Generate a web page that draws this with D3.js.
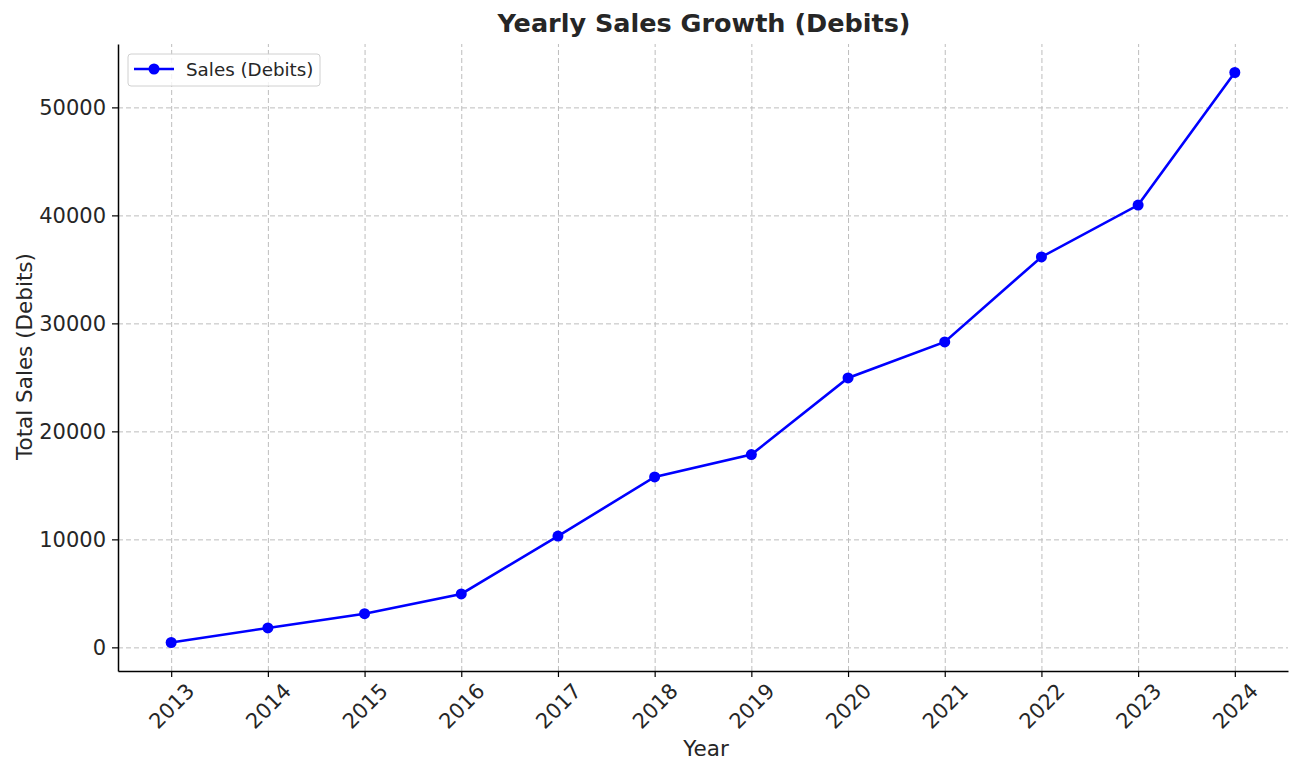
<!DOCTYPE html>
<html>
<head>
<meta charset="utf-8">
<script src="https://cdn.jsdelivr.net/npm/d3@7"></script>
<style>
  body { margin: 0; background: #fff; }
  svg text { font-family: "DejaVu Sans", sans-serif; fill: #262626; }
  .grid line { stroke: #bdbdbd; stroke-dasharray: 5,3; stroke-width: 1; }
  .grid path { display: none; }
</style>
</head>
<body>
<div id="chart"></div>
<script>
var years = [2013, 2014, 2015, 2016, 2017, 2018, 2019, 2020, 2021, 2022, 2023, 2024];
var sales = [450, 1800, 3120, 4950, 10300, 15780, 17850, 24950, 28280, 36150, 40950, 53230];
var yTicks = [0, 10000, 20000, 30000, 40000, 50000];

var margin = { top: 44, right: 12, bottom: 104, left: 118 },
    width  = 1300 - margin.left - margin.right,
    height = 775 - margin.top - margin.bottom;

var data = years.map(function(y, i) { return { year: y, sales: sales[i] }; });

var yMin = d3.min(sales), yMax = d3.max(sales), yPad = (yMax - yMin) * 0.05;
var x = d3.scaleLinear()
  .domain([years[0] - 0.55, years[years.length - 1] + 0.55])
  .range([0, width]);
var y = d3.scaleLinear()
  .domain([yMin - yPad, yMax + yPad])
  .range([height, 0]);

var svg = d3.select("#chart").append("svg")
  .attr("width", 1300)
  .attr("height", 775)
  .append("g")
  .attr("transform", "translate(" + margin.left + "," + margin.top + ")");

// grid
svg.append("g")
  .attr("class", "grid")
  .attr("transform", "translate(0," + height + ")")
  .call(d3.axisBottom(x).tickValues(years).tickSize(-height).tickFormat(""));
svg.append("g")
  .attr("class", "grid")
  .call(d3.axisLeft(y).tickValues(yTicks).tickSize(-width).tickFormat(""));

// axes
var xAxis = svg.append("g")
  .attr("transform", "translate(0," + height + ")")
  .call(d3.axisBottom(x).tickValues(years).tickFormat(d3.format("d")).tickSize(6).tickPadding(6).tickSizeOuter(0));
xAxis.select(".domain").attr("stroke", "#000").attr("stroke-width", 1.5);
xAxis.selectAll(".tick line").attr("stroke", "#000").attr("stroke-width", 1.2);
// rotated labels centred under the tick, like matplotlib
xAxis.selectAll("text")
  .style("font-size", "21px")
  .style("text-anchor", "middle")
  .attr("y", 0)
  .attr("dy", "0.35em")
  .attr("transform", "translate(0,35) rotate(-45)");

var yAxis = svg.append("g")
  .call(d3.axisLeft(y).tickValues(yTicks).tickFormat(d3.format("d")).tickSize(6).tickPadding(6).tickSizeOuter(0));
yAxis.select(".domain").attr("stroke", "#000").attr("stroke-width", 1.5);
yAxis.selectAll(".tick line").attr("stroke", "#000").attr("stroke-width", 1.2);
yAxis.selectAll("text").style("font-size", "21px");

// line
var line = d3.line()
  .x(function(d) { return x(d.year); })
  .y(function(d) { return y(d.sales); });

svg.append("path")
  .datum(data)
  .attr("fill", "none")
  .attr("stroke", "#0000ff")
  .attr("stroke-width", 2.6)
  .attr("d", line);

svg.selectAll(".dot")
  .data(data)
  .enter().append("circle")
  .attr("cx", function(d) { return x(d.year); })
  .attr("cy", function(d) { return y(d.sales); })
  .attr("r", 5.5)
  .attr("fill", "#0000ff");

// labels
svg.append("text")
  .attr("x", width / 2 + 3)
  .attr("y", height + 85)
  .style("text-anchor", "middle")
  .style("font-size", "21.5px")
  .text("Year");

svg.append("text")
  .attr("transform", "rotate(-90)")
  .attr("x", -height / 2 + 1)
  .attr("y", -margin.left + 32)
  .style("text-anchor", "middle")
  .style("font-size", "21.5px")
  .text("Total Sales (Debits)");

svg.append("text")
  .attr("x", width / 2 + 1)
  .attr("y", -12)
  .style("text-anchor", "middle")
  .style("font-size", "25.5px")
  .style("font-weight", "bold")
  .text("Yearly Sales Growth (Debits)");

// legend
var lg = svg.append("g").attr("transform", "translate(10,10)");
lg.append("rect")
  .attr("width", 192).attr("height", 32)
  .attr("rx", 3)
  .attr("fill", "#fff").attr("fill-opacity", 0.8)
  .attr("stroke", "#d0d0d0");
lg.append("line")
  .attr("x1", 6).attr("x2", 46).attr("y1", 15).attr("y2", 15)
  .attr("stroke", "#0000ff").attr("stroke-width", 2.6);
lg.append("circle").attr("cx", 26).attr("cy", 15).attr("r", 5.5).attr("fill", "#0000ff");
lg.append("text")
  .attr("x", 58).attr("y", 21.5)
  .style("font-size", "18.3px")
  .text("Sales (Debits)");
</script>
</body>
</html>
